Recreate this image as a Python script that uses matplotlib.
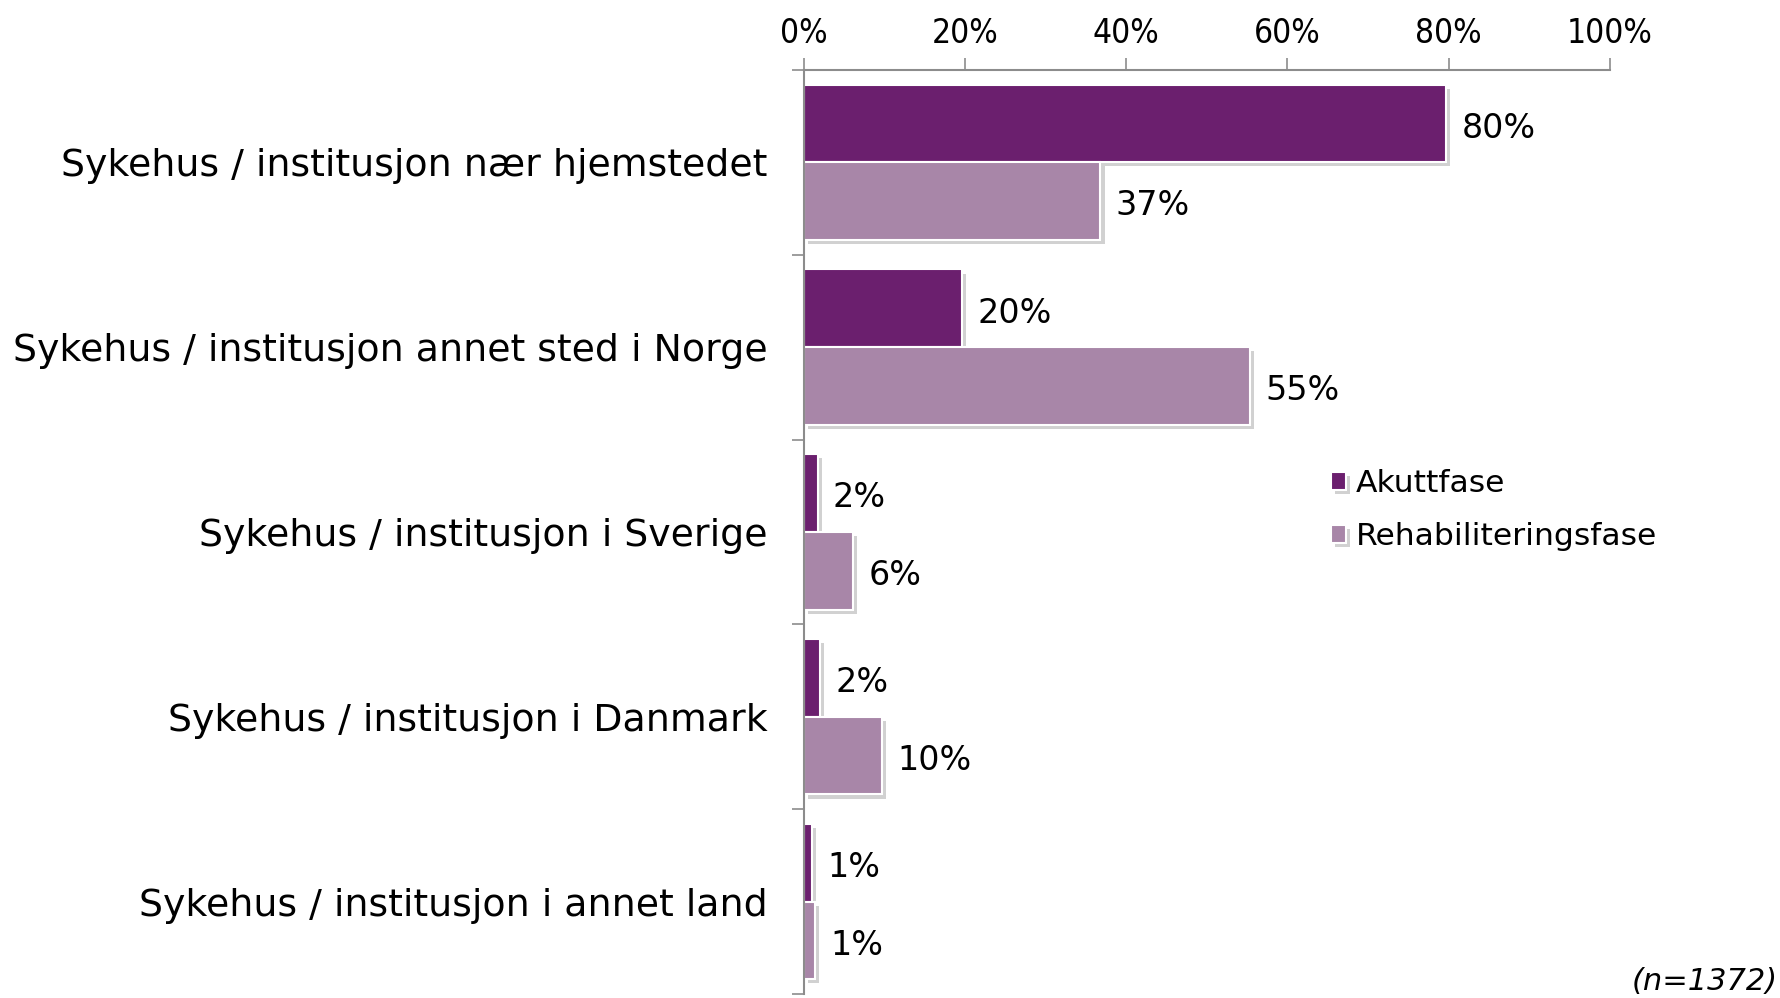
import numpy as np
import matplotlib
matplotlib.use('Agg')
import matplotlib.pyplot as plt
import matplotlib.patheffects as pe

plt.rcParams['font.family'] = ['DejaVu Sans']

# ============================================================
# 数据
# ============================================================
categories = [
    'Sykehus / institusjon nær hjemstedet',
    'Sykehus / institusjon annet sted i Norge',
    'Sykehus / institusjon i Sverige',
    'Sykehus / institusjon i Danmark',
    'Sykehus / institusjon i annet land',
]
akutt = [79.7, 19.6, 1.7, 2.0, 1.0]
rehab = [36.8, 55.4, 6.1, 9.7, 1.4]
series_names = ['Akuttfase', 'Rehabiliteringsfase']
x_ticks = [0, 20, 40, 60, 80, 100]
note = '(n=1372)'

col_akutt = '#6b1f6e'
col_rehab = '#a886a8'
axis_col = '#8c8c8c'

fig = plt.figure(figsize=(17.81, 9.98), dpi=100)
ax = fig.add_axes([0.4514, 0.004, 0.4524, 0.926])

y = np.arange(len(categories))
h = 0.42
shadow = [pe.SimplePatchShadow(offset=(3, -3), shadow_rgbFace='black', alpha=0.18), pe.Normal()]

b1 = ax.barh(y - h / 2, akutt, height=h, color=col_akutt, edgecolor='white', linewidth=1.5,
             label=series_names[0], path_effects=shadow)
b2 = ax.barh(y + h / 2, rehab, height=h, color=col_rehab, edgecolor='white', linewidth=1.5,
             label=series_names[1], path_effects=shadow)

# 数值标签
for bars, vals in ((b1, akutt), (b2, rehab)):
    for bar, v in zip(bars, vals):
        ax.annotate(f'{round(v)}%', xy=(v, bar.get_y() + bar.get_height() / 2),
                    xytext=(11, -3.5), textcoords='offset points',
                    ha='left', va='center', fontsize=24)

ax.set_xlim(0, 100)
ax.set_ylim(len(categories) - 0.5, -0.5)

# 顶部坐标轴
ax.xaxis.tick_top()
ax.set_xticks(x_ticks)
ax.set_xticklabels([f'{t}%' for t in x_ticks], fontsize=24, fontstretch='condensed')
ax.tick_params(axis='x', direction='out', length=9, width=1.2, color=axis_col, pad=5)

# 左侧类别
ax.set_yticks(y)
ax.set_yticklabels(categories, fontsize=27.3)
ax.tick_params(axis='y', which='major', length=0, pad=26)
ax.set_yticks(np.arange(-0.5, len(categories), 1.0), minor=True)
ax.tick_params(axis='y', which='minor', direction='out', length=9, width=1.2, color=axis_col)

for s in ('right', 'bottom'):
    ax.spines[s].set_visible(False)
for s in ('top', 'left'):
    ax.spines[s].set_color(axis_col)
    ax.spines[s].set_linewidth(1.5)

leg = ax.legend(loc='upper left', bbox_to_anchor=(0.638, 0.582), frameon=False, fontsize=22.6,
                handlelength=0.5, handleheight=0.5, handletextpad=0.3, labelspacing=0.78,
                borderaxespad=0)

fig.text(0.998, 0.002, note, ha='right', va='bottom', fontsize=22, style='italic')

fig.savefig('out.png', dpi=100)
